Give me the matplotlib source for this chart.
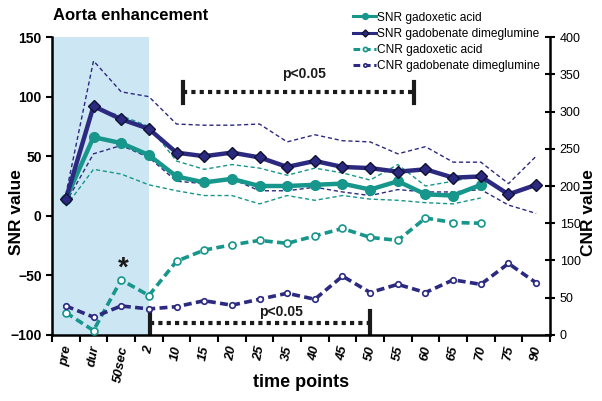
import numpy as np
import matplotlib
matplotlib.use("Agg")
import matplotlib.pyplot as plt

plt.rcParams['font.family'] = ['Liberation Sans', 'DejaVu Sans']

time_points = ['pre', 'dur', '50sec', '2', '10', '15', '20', '25', '35', '40',
               '45', '50', '55', '60', '65', '70', '75', '90']

# SNR means (left axis)
snr_gadobenate = [14, 92, 81, 73, 53, 50, 53, 49, 41, 46, 41, 40, 37, 39, 32, 33, 18, 26]
snr_gadoxetic = [14, 66, 61, 51, 33, 28, 31, 25, 25, 26, 27, 22, 29, 18, 17, 26]

# SD bands (thin dashed lines)
gadobenate_hi = [18, 130, 104, 100, 77, 76, 76, 77, 62, 68, 63, 62, 52, 58, 45, 45, 27, 50]
gadobenate_lo = [11, 52, 59, 49, 29, 27, 31, 21, 21, 24, 20, 17, 22, 20, 20, 22, 9, 2]
gadoxetic_hi = [16, 90, 84, 75, 46, 39, 43, 40, 34, 40, 36, 30, 43, 25, 29, 34]
gadoxetic_lo = [8, 39, 35, 26, 21, 17, 17, 10, 17, 13, 17, 14, 13, 11, 10, 15]

# CNR means (right axis)
cnr_gadoxetic = [30, 6, 74, 53, 99, 114, 121, 127, 123, 133, 143, 131, 127, 157, 151, 150]
cnr_gadobenate = [39, 24, 39, 35, 38, 46, 40, 48, 56, 48, 79, 57, 68, 57, 74, 68, 96, 70]

teal = '#17968b'
navy = '#2c2a80'

x_all = np.arange(len(time_points))
x_ox = np.arange(len(snr_gadoxetic))

fig = plt.figure(figsize=(6.02, 4.01), dpi=100)
ax = fig.add_axes([0.0864, 0.1646, 0.8272, 0.7431])
ax2 = ax.twinx()

ax.axvspan(-0.5, 3, color='#cde6f3', zorder=0, lw=0)

# SD lines
ax.plot(x_all, gadobenate_hi, color=navy, lw=1, dashes=(3, 2), zorder=2)
ax.plot(x_all, gadobenate_lo, color=navy, lw=1, dashes=(3, 2), zorder=2)
ax.plot(x_ox, gadoxetic_hi, color=teal, lw=1, dashes=(3, 2), zorder=2)
ax.plot(x_ox, gadoxetic_lo, color=teal, lw=1, dashes=(3, 2), zorder=2)

l1, = ax.plot(x_ox, snr_gadoxetic, color=teal, lw=3.2, marker='o', ms=7,
              mfc=teal, mec=teal, zorder=3, label='SNR gadoxetic acid')
l2, = ax.plot(x_all, snr_gadobenate, color=navy, lw=3.2, marker='D', ms=6,
              mfc=navy, mec='#111133', mew=1, zorder=4, label='SNR gadobenate dimeglumine')

l3, = ax2.plot(x_ox, cnr_gadoxetic, color=teal, lw=2.6, dashes=(2.2, 1.2), marker='o',
               ms=5, mfc='white', mec=teal, mew=1.2, label='CNR gadoxetic acid')
l4, = ax2.plot(x_all, cnr_gadobenate, color=navy, lw=2.6, dashes=(2.2, 1.2), marker='o',
               ms=4, mfc='white', mec=navy, mew=1.2, label='CNR gadobenate dimeglumine')

ax.set_xlim(-0.5, len(time_points) - 0.5)
ax.set_ylim(-100, 150)
ax2.set_ylim(0, 400)

# significance brackets
ax.plot([4.23, 12.6], [103.5, 103.5], color='#1a1a1a', lw=3, dashes=(1, 1), dash_capstyle='butt')
ax.plot([4.23, 4.23], [95, 112], color='#1a1a1a', lw=3)
ax.plot([12.6, 12.6], [95, 112], color='#1a1a1a', lw=3)
ax.text(8.6, 119, 'p<0.05', ha='center', va='center', fontsize=10, fontweight='bold', color='#1a1a1a')

ax.plot([3.04, 11.0], [-90, -90], color='#1a1a1a', lw=3, dashes=(1, 1), dash_capstyle='butt')
ax.plot([3.04, 3.04], [-80, -99], color='#1a1a1a', lw=3)
ax.plot([11.0, 11.0], [-80, -99], color='#1a1a1a', lw=3)
ax.text(7.77, -81, 'p<0.05', ha='center', va='center', fontsize=10, fontweight='bold', color='#1a1a1a')

ax.text(2.06, -44, '*', ha='center', va='center', fontsize=20, fontweight='bold', color='#1a1a1a')

# axes styling
for a in (ax, ax2):
    a.spines['top'].set_visible(False)
ax.spines['right'].set_visible(False)
ax2.spines['left'].set_visible(False)
ax2.spines['bottom'].set_visible(False)
ax.spines['left'].set_linewidth(1.8)
ax.spines['bottom'].set_linewidth(1.8)
ax2.spines['right'].set_linewidth(1.8)

ax.set_yticks([-100, -50, 0, 50, 100, 150])
ax.tick_params(axis='y', direction='out', length=4, width=1.5, labelsize=10)
for t in ax.get_yticklabels():
    t.set_fontweight('bold')
ax2.set_yticks([0, 50, 100, 150, 200, 250, 300, 350, 400])
ax2.tick_params(axis='y', direction='inout', length=7, width=1.5, labelsize=9)

ax.set_xticks(x_all)
ax.set_xticklabels(time_points, rotation=80, fontsize=9.5, fontweight='bold', fontstyle='italic')
ax.set_xticks(np.arange(-0.5, len(time_points), 1), minor=True)
ax.tick_params(axis='x', which='major', length=0, pad=7)
ax.tick_params(axis='x', which='minor', direction='out', length=5, width=1.5)

fig.text(0.5, 0.045, 'time points', fontsize=13, fontweight='bold', ha='center', va='center')
fig.text(0.027, 0.47, 'SNR value', fontsize=12.5, fontweight='bold', rotation=90,
         ha='center', va='center')
fig.text(0.978, 0.47, 'CNR value', fontsize=12.5, fontweight='bold', rotation=90,
         ha='center', va='center')

fig.text(0.088, 0.962, 'Aorta enhancement', fontsize=12, fontweight='bold', va='center')

leg = fig.legend(handles=[l1, l2, l3, l4], loc='upper left', bbox_to_anchor=(0.573, 0.992),
                 frameon=False, fontsize=8.6, handlelength=1.9, handletextpad=0.05,
                 labelspacing=0.35, borderpad=0.2, markerscale=0.6)
for h in leg.legend_handles:
    h.set_linewidth(2.2)

fig.savefig('out.png', dpi=100)
